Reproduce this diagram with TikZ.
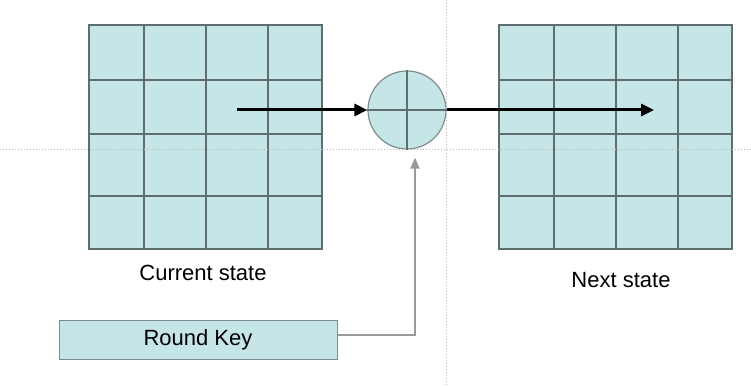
\documentclass[tikz,border=0pt]{standalone}
\usepackage{fontspec}
\setmainfont{Liberation Sans}
\usetikzlibrary{arrows.meta,calc}
\definecolor{cellfill}{HTML}{C6E5E7}
\definecolor{gridline}{HTML}{5E6E6F}
\definecolor{dotgray}{HTML}{B5B5B5}
\definecolor{conngray}{HTML}{9A9A9A}
\tikzset{
  statebox/.style={draw=gridline, line width=1.2pt, fill=cellfill, minimum width=233pt, minimum height=224pt, inner sep=0pt, outer sep=0pt},
  gridl/.style={draw=gridline, line width=1.2pt},
  keybox/.style={draw=gridline!80, line width=1pt, fill=cellfill, minimum width=278pt, minimum height=39pt, inner sep=0pt, font=\fontsize{22}{24}\selectfont},
  lbl/.style={font=\fontsize{22}{24}\selectfont, inner sep=0pt},
  xorc/.style={circle, draw=gridline!80, line width=1.2pt, fill=cellfill, minimum size=78pt, inner sep=0pt},
  bigarrow/.style={line width=3pt, -{Triangle[length=13pt,width=12pt]}},
  grayarrow/.style={draw=conngray, line width=1.5pt, -{Triangle[length=11pt,width=9pt]}, color=conngray},
  dotline/.style={draw=dotgray, line width=1pt, dotted},
}
\begin{document}
\begin{tikzpicture}[x=1pt,y=-1pt]
\useasboundingbox (0,0) rectangle (751,387);
% left state
\node[statebox] (cur) at (205.5,137) {};
\foreach \x in {144,206,268} \draw[gridl] (\x,25) -- (\x,249);
\foreach \y in {80,134,196} \draw[gridl] (89,\y) -- (322,\y);
% right state
\node[statebox] (nxt) at (615.5,137) {};
\foreach \x in {554,616,678} \draw[gridl] (\x,25) -- (\x,249);
\foreach \y in {80,134,196} \draw[gridl] (499,\y) -- (732,\y);
% xor
\node[xorc] (xor) at (407,110) {};
\draw[gridl] (xor.north) -- (xor.south);
\draw[gridl] (xor.west) -- (xor.east);
% labels
\node[lbl] (curl) at (203,273) {Current state};
\node[lbl] (nxtl) at (621,280) {Next state};
% key
\node[keybox] (key) at (198,339.5) {Round Key};
% arrows
\coordinate (a0) at (237,110);
\coordinate (a1) at (654,110);
\draw[bigarrow] (a0) -- (xor.west);
\draw[bigarrow] (xor.east) -- (a1);
\coordinate (kup) at ($(xor.south)+(8,8)$);
\draw[grayarrow] ($(key.east)+(0,-4.5)$) -| (kup);
% dotted guides
\draw[dotline] (0,150) -- (751,150);
\draw[dotline] (446,0) -- (446,387);
\end{tikzpicture}
\end{document}
